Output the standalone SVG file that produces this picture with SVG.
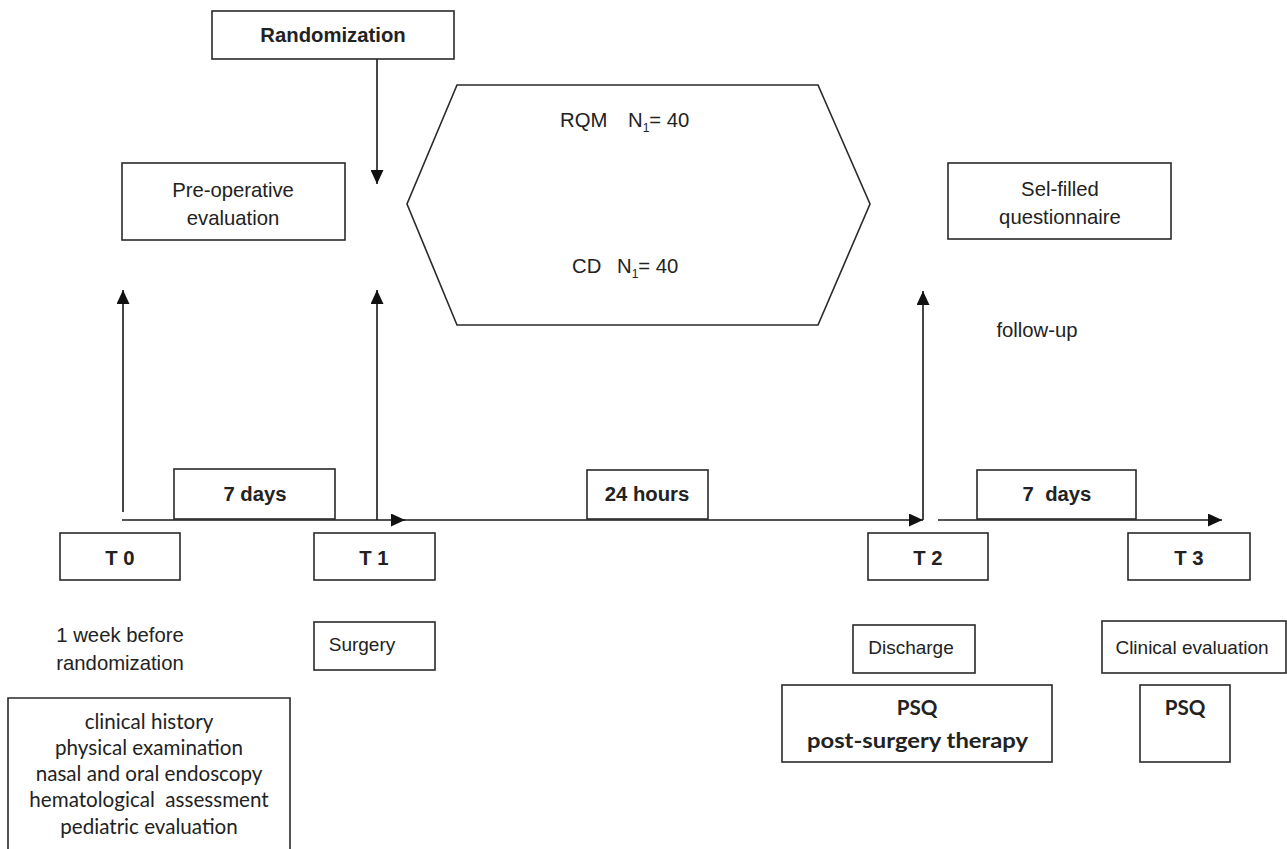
<svg xmlns="http://www.w3.org/2000/svg" width="1287" height="849" viewBox="0 0 1287 849">
<style>
.box{fill:#fff;stroke:#2a2a2a;stroke-width:1.6}
.ln{fill:none;stroke:#1a1a1a;stroke-width:1.6}
.t{font-family:"Liberation Sans",Arial,sans-serif;font-size:20.3px;fill:#222;text-anchor:middle}
.s{font-size:19px}
.b{font-weight:bold}
.c{font-family:Lato,"Open Sans",sans-serif;font-size:20.6px;fill:#222;text-anchor:middle}
</style>
<defs>
<marker id="ah" markerUnits="userSpaceOnUse" markerWidth="15" markerHeight="13" refX="14" refY="6.5" orient="auto">
<path d="M0,0 L14,6.5 L0,13 z" fill="#111"/>
</marker>
</defs>
<rect width="1287" height="849" fill="#fff"/>
<g id="connectors">
<line class="ln" x1="377" y1="59" x2="377" y2="184" marker-end="url(#ah)"/>
<line class="ln" x1="123" y1="512" x2="123" y2="290" marker-end="url(#ah)"/>
<line class="ln" x1="377" y1="520" x2="377" y2="290" marker-end="url(#ah)"/>
<line class="ln" x1="923" y1="520" x2="923" y2="291" marker-end="url(#ah)"/>
<line class="ln" x1="122" y1="520" x2="405" y2="520" marker-end="url(#ah)"/>
<line class="ln" x1="403" y1="520" x2="923" y2="520" marker-end="url(#ah)"/>
<line class="ln" x1="938" y1="520" x2="1222" y2="520" marker-end="url(#ah)"/>
</g>
<g id="randomization"><rect class="box" x="212" y="11" width="242" height="48"/><text class="t b" x="333" y="42">Randomization</text></g>
<g id="preop"><rect class="box" x="122" y="163" width="223" height="77"/><text class="t" x="233" y="197">Pre-operative</text><text class="t" x="233" y="225">evaluation</text></g>
<g id="groups"><polygon class="box" points="457,85 818,85 870,204 818,325 457,325 407,204"/>
<text class="t" x="560" y="127" style="text-anchor:start">RQM<tspan x="628">N</tspan><tspan font-size="12" dy="5">1</tspan><tspan dy="-5">= 40</tspan></text>
<text class="t" x="572" y="273" style="text-anchor:start">CD<tspan x="617">N</tspan><tspan font-size="12" dy="5">1</tspan><tspan dy="-5">= 40</tspan></text></g>
<g id="selfilled"><rect class="box" x="948" y="163" width="223" height="76"/><text class="t" x="1060" y="196">Sel-filled</text><text class="t" x="1060" y="224">questionnaire</text></g>
<g id="followup"><text class="t" x="1037" y="337">follow-up</text></g>
<g id="d7a"><rect class="box" x="174" y="469" width="161" height="50"/><text class="t b" x="255" y="501">7 days</text></g>
<g id="h24"><rect class="box" x="587" y="470" width="121" height="49"/><text class="t b" x="647" y="501">24 hours</text></g>
<g id="d7b"><rect class="box" x="977" y="470" width="159" height="49"/><text class="t b" x="1057" y="501" xml:space="preserve">7  days</text></g>
<g id="t0"><rect class="box" x="60" y="533" width="120" height="47"/><text class="t b" x="120" y="565">T 0</text></g>
<g id="t1"><rect class="box" x="314" y="533" width="121" height="47"/><text class="t b" x="374" y="565">T 1</text></g>
<g id="t2"><rect class="box" x="868" y="533" width="120" height="47"/><text class="t b" x="928" y="565">T 2</text></g>
<g id="t3"><rect class="box" x="1128" y="533" width="122" height="47"/><text class="t b" x="1189" y="565">T 3</text></g>
<g id="week"><text class="t" x="120" y="642">1 week before</text><text class="t" x="120" y="670">randomization</text></g>
<g id="surgery"><rect class="box" x="314" y="622" width="121" height="48"/><text class="t s" x="362" y="651">Surgery</text></g>
<g id="discharge"><rect class="box" x="853" y="625" width="122" height="48"/><text class="t s" x="911" y="654">Discharge</text></g>
<g id="psq1"><rect class="box" x="782" y="685" width="270" height="77"/><text class="c b" x="917" y="715" font-size="20">PSQ</text><text class="c b" x="917.5" y="748" font-size="25" textLength="221" lengthAdjust="spacingAndGlyphs">post-surgery therapy</text></g>
<g id="clinical"><rect class="box" x="1102" y="621" width="184" height="52"/><text class="t s" x="1192" y="654">Clinical evaluation</text></g>
<g id="psq2"><rect class="box" x="1140" y="685" width="90" height="77"/><text class="c b" x="1185" y="715" font-size="20">PSQ</text></g>
<g id="t0list"><path class="box" d="M8,852 V698 H290 V852"/>
<text class="c" x="149" y="729">clinical history</text>
<text class="c" x="149" y="755">physical examination</text>
<text class="c" x="149" y="781">nasal and oral endoscopy</text>
<text class="c" x="149" y="807" xml:space="preserve">hematological  assessment</text>
<text class="c" x="149" y="834">pediatric evaluation</text></g>
</svg>
